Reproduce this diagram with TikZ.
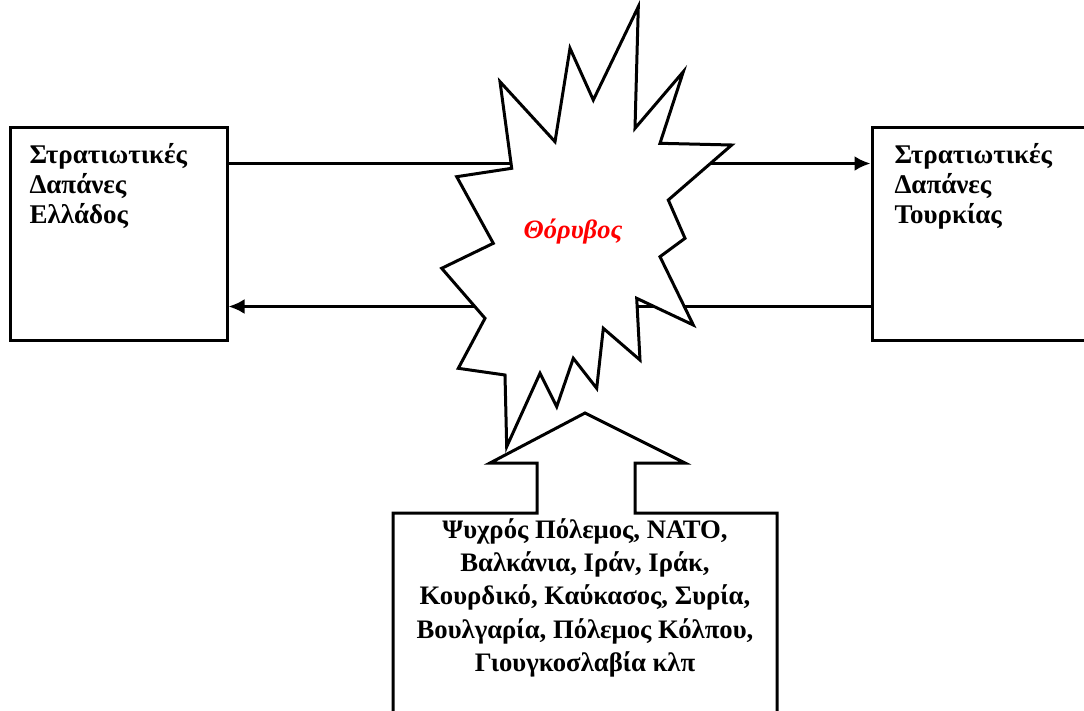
\documentclass[tikz,border=0pt]{standalone}
\usepackage{fontspec}
\setmainfont{Liberation Serif}
\usetikzlibrary{arrows.meta}

\tikzset{
  box/.style={draw, rectangle, inner sep=0pt},
  boxtext/.style={font=\bfseries\fontsize{27}{30}\selectfont, align=left, inner sep=0pt},
  causetext/.style={font=\bfseries\fontsize{26.7}{33.3}\selectfont, align=center, inner sep=0pt}
}

\begin{document}
\begin{tikzpicture}[x=1pt, y=-1pt, line width=3pt, >={Latex[length=16pt,width=15pt]}]
            \useasboundingbox (0,0) rectangle (1084,710);
            \clip (0,0) rectangle (1084,710);
            % the two budgets
            \node[box, minimum width=217pt, minimum height=213pt] (gr) at (118.5,233.5) {};
            \node[box, minimum width=225pt, minimum height=213pt] (tr) at (984.5,233.5) {};
            \node[boxtext, anchor=north west] (grtext) at (28,142) {Στρατιωτικές\\Δαπάνες\\Ελλάδος};
            \node[boxtext, anchor=north west] (trtext) at (893,142) {Στρατιωτικές\\Δαπάνες\\Τουρκίας};
            \draw[->] ([yshift=70pt]gr.east) -- ([yshift=70pt]tr.west);
            \draw[->] ([yshift=-73pt]tr.west) -- ([yshift=-73pt]gr.east);
            % the noise burst
            \draw[fill=white, line join=miter] (638.3,6.7) -- (635,128.3) -- (683.3,71.7) -- (660,143.3)
              -- (731.7,145) -- (668.3,200) -- (685,238.3) -- (660,256.7) -- (693.3,325)
              -- (636.7,298.3) -- (640,360) -- (603.3,328.3) -- (596.7,388.3) -- (573.3,358.3)
              -- (556.7,406.7) -- (540,373.3) -- (506.7,446.7) -- (505,375) -- (458.3,368.3)
              -- (485,318.3) -- (441.7,268.3) -- (493.3,243.3) -- (456.7,176.7) -- (511.7,168.3)
              -- (500,81.7) -- (555,141.7) -- (570,48.3) -- (593.3,100) -- cycle;
            \node[font=\bfseries\itshape\fontsize{26.5}{30}\selectfont, text=red] (noise) at (573,232) {Θόρυβος};
            % external factors pushing up
            \draw[fill=white, line join=miter] (393,720) -- (393,513) -- (537,513) -- (537,463) -- (490,463)
              -- (585,413) -- (685,463) -- (635,463) -- (635,513) -- (777,513) -- (777,720);
            \node[causetext, anchor=north] (causes) at (585,517) {Ψυχρός Πόλεμος, ΝΑΤΟ,\\Βαλκάνια, Ιράν, Ιράκ,\\Κουρδικό, Καύκασος, Συρία,\\Βουλγαρία, Πόλεμος Κόλπου,\\Γιουγκοσλαβία κλπ};
\end{tikzpicture}
\end{document}
